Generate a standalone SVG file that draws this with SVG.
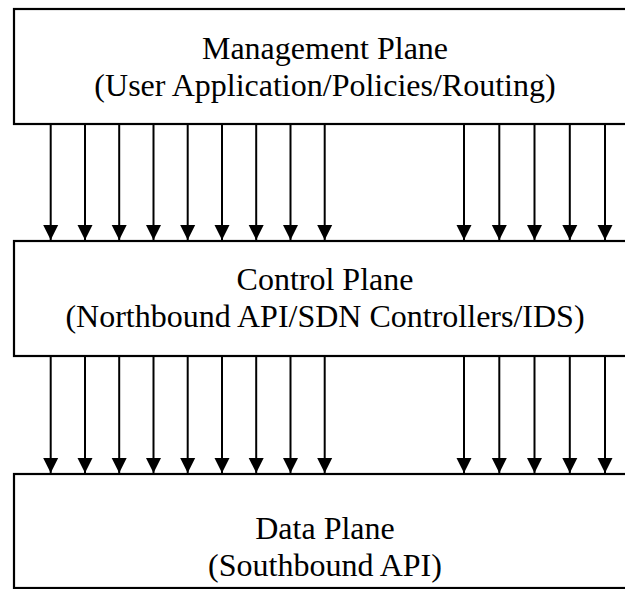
<svg xmlns="http://www.w3.org/2000/svg" width="625" height="589" viewBox="0 0 625 589">
  <style>
    .box { fill: #ffffff; stroke: #000000; stroke-width: 2.2; }
    .lbl { font-family: "Liberation Serif", "Times New Roman", serif; font-size: 32px; fill: #000000; text-anchor: middle; }
    .arr { stroke: #000000; stroke-width: 2; fill: none; marker-end: url(#ah); }
  </style>
  <defs>
    <marker id="ah" markerUnits="userSpaceOnUse" markerWidth="15" markerHeight="16" refX="15" refY="7.5" orient="auto" viewBox="0 0 15 15">
      <path d="M0,0 L15,7.5 L0,15 Z" fill="#000000"/>
    </marker>
  </defs>
  <g id="management-plane">
    <rect class="box" x="14" y="9" width="640" height="115"/>
    <text class="lbl" x="325" y="59">Management Plane</text>
    <text class="lbl" x="325" y="96">(User Application/Policies/Routing)</text>
  </g>
  <g id="control-plane">
    <rect class="box" x="14" y="241" width="640" height="115"/>
    <text class="lbl" x="325" y="290">Control Plane</text>
    <text class="lbl" x="325" y="327">(Northbound API/SDN Controllers/IDS)</text>
  </g>
  <g id="data-plane">
    <rect class="box" x="14" y="474" width="640" height="114"/>
    <text class="lbl" x="325" y="539">Data Plane</text>
    <text class="lbl" x="325" y="576">(Southbound API)</text>
  </g>
  <g id="connectors">
    <line class="arr" x1="50.7" y1="124" x2="50.7" y2="240"/>
    <line class="arr" x1="85" y1="124" x2="85" y2="240"/>
    <line class="arr" x1="119.2" y1="124" x2="119.2" y2="240"/>
    <line class="arr" x1="153.5" y1="124" x2="153.5" y2="240"/>
    <line class="arr" x1="187.7" y1="124" x2="187.7" y2="240"/>
    <line class="arr" x1="222" y1="124" x2="222" y2="240"/>
    <line class="arr" x1="256.2" y1="124" x2="256.2" y2="240"/>
    <line class="arr" x1="290.5" y1="124" x2="290.5" y2="240"/>
    <line class="arr" x1="324.7" y1="124" x2="324.7" y2="240"/>
    <line class="arr" x1="464" y1="124" x2="464" y2="240"/>
    <line class="arr" x1="499.3" y1="124" x2="499.3" y2="240"/>
    <line class="arr" x1="534.5" y1="124" x2="534.5" y2="240"/>
    <line class="arr" x1="569.8" y1="124" x2="569.8" y2="240"/>
    <line class="arr" x1="605" y1="124" x2="605" y2="240"/>
    <line class="arr" x1="50.7" y1="356" x2="50.7" y2="473"/>
    <line class="arr" x1="85" y1="356" x2="85" y2="473"/>
    <line class="arr" x1="119.2" y1="356" x2="119.2" y2="473"/>
    <line class="arr" x1="153.5" y1="356" x2="153.5" y2="473"/>
    <line class="arr" x1="187.7" y1="356" x2="187.7" y2="473"/>
    <line class="arr" x1="222" y1="356" x2="222" y2="473"/>
    <line class="arr" x1="256.2" y1="356" x2="256.2" y2="473"/>
    <line class="arr" x1="290.5" y1="356" x2="290.5" y2="473"/>
    <line class="arr" x1="324.7" y1="356" x2="324.7" y2="473"/>
    <line class="arr" x1="464" y1="356" x2="464" y2="473"/>
    <line class="arr" x1="499.3" y1="356" x2="499.3" y2="473"/>
    <line class="arr" x1="534.5" y1="356" x2="534.5" y2="473"/>
    <line class="arr" x1="569.8" y1="356" x2="569.8" y2="473"/>
    <line class="arr" x1="605" y1="356" x2="605" y2="473"/>
  </g>
</svg>
